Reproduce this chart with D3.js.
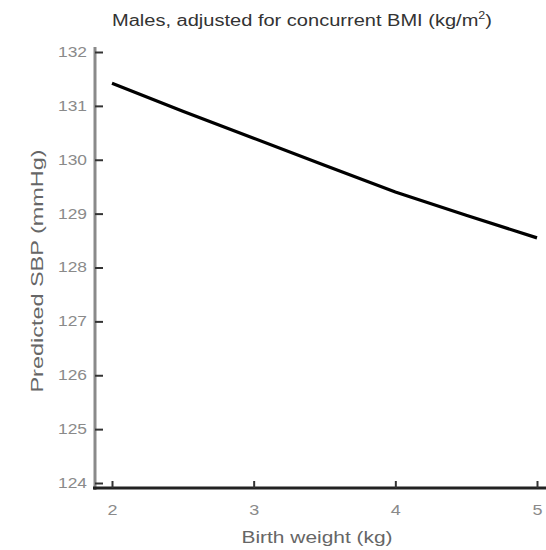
<!DOCTYPE html>
<html>
<head>
<meta charset="utf-8">
<script src="https://cdn.jsdelivr.net/npm/d3@7"></script>
<style>
  html, body { margin: 0; padding: 0; background: #fff; }
  svg { display: block; font-family: "Liberation Sans", Arial, sans-serif; }
</style>
</head>
<body>
<svg id="chart" width="546" height="550"></svg>
<script>
// Predicted systolic blood pressure across birth weight (males, BMI-adjusted)
const birthWeight = [2.0, 2.5, 3.0, 3.5, 4.0, 4.5, 5.0];
const predictedSBP = [131.42, 130.90, 130.40, 129.90, 129.40, 128.97, 128.55];
const xTicks = [2, 3, 4, 5];
const yTicks = [124, 125, 126, 127, 128, 129, 130, 131, 132];

const svg = d3.select("#chart");

const x = d3.scaleLinear().domain([2, 5]).range([112, 537]);
const y = d3.scaleLinear().domain([124, 132]).range([483, 52]);

const axisLeftX = 95;   // position of the vertical axis
const axisBottomY = 488; // position of the horizontal axis

// vertical axis line (grey)
svg.append("line")
  .attr("x1", axisLeftX).attr("x2", axisLeftX)
  .attr("y1", 47).attr("y2", 490)
  .attr("stroke", "#8a8a8a").attr("stroke-width", 3);

// y ticks (pointing inward) and labels
const yAxis = d3.axisLeft(y).tickValues(yTicks).tickSizeInner(-8).tickSizeOuter(0)
  .tickFormat(d3.format("d"));
const gy = svg.append("g").attr("transform", `translate(${axisLeftX},0)`).call(yAxis);
gy.select(".domain").remove();
gy.selectAll(".tick line").attr("stroke", "#333").attr("stroke-width", 2);
gy.selectAll(".tick text")
  .attr("x", -8)
  .attr("fill", "#8a8a8a")
  .attr("font-size", 14)
  .attr("textLength", 29)
  .attr("lengthAdjust", "spacingAndGlyphs");

// horizontal axis line (dark)
svg.append("line")
  .attr("x1", axisLeftX - 2).attr("x2", 546)
  .attr("y1", axisBottomY).attr("y2", axisBottomY)
  .attr("stroke", "#222").attr("stroke-width", 3);

// x ticks (pointing inward) and labels
const xAxis = d3.axisBottom(x).tickValues(xTicks).tickSizeInner(-7).tickSizeOuter(0)
  .tickPadding(16).tickFormat(d3.format("d"));
const gx = svg.append("g").attr("transform", `translate(0,${axisBottomY})`).call(xAxis);
gx.select(".domain").remove();
gx.selectAll(".tick line").attr("stroke", "#333").attr("stroke-width", 2);
gx.selectAll(".tick text")
  .attr("fill", "#8a8a8a")
  .attr("font-size", 15)
  .attr("textLength", 10)
  .attr("lengthAdjust", "spacingAndGlyphs");

// prediction curve
const line = d3.line().x((d, i) => x(birthWeight[i])).y(d => y(d));
svg.append("path")
  .datum(predictedSBP)
  .attr("d", line)
  .attr("fill", "none")
  .attr("stroke", "#000")
  .attr("stroke-width", 3.2);

// title
const title = svg.append("text")
  .attr("x", 302).attr("y", 26)
  .attr("text-anchor", "middle")
  .attr("fill", "#333")
  .attr("font-size", 16)
  .attr("textLength", 380)
  .attr("lengthAdjust", "spacingAndGlyphs");
title.append("tspan").text("Males, adjusted for concurrent BMI (kg/m");
title.append("tspan").attr("font-size", 10).attr("dy", -7).text("2");
title.append("tspan").attr("dy", 7).text(")");

// x axis title
svg.append("text")
  .attr("x", 317).attr("y", 543)
  .attr("text-anchor", "middle")
  .attr("fill", "#666")
  .attr("font-size", 16)
  .attr("textLength", 151)
  .attr("lengthAdjust", "spacingAndGlyphs")
  .text("Birth weight (kg)");

// y axis title
svg.append("text")
  .attr("transform", "translate(43,271) rotate(-90)")
  .attr("text-anchor", "middle")
  .attr("fill", "#666")
  .attr("font-size", 16)
  .attr("textLength", 243)
  .attr("lengthAdjust", "spacingAndGlyphs")
  .text("Predicted SBP (mmHg)");
</script>
</body>
</html>
